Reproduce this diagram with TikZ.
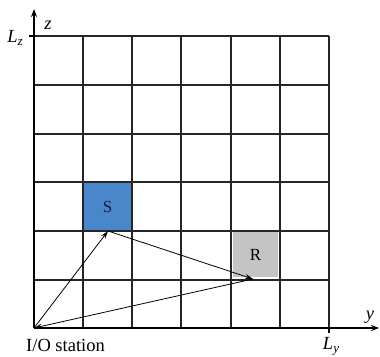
\documentclass[tikz,border=0pt]{standalone}
\usepackage{fontspec}
\setmainfont{Liberation Serif}
\usetikzlibrary{arrows.meta}
\begin{document}
\begin{tikzpicture}[x=1pt,y=1pt,
  gridline/.style={line width=1.4pt,black!85},
  cell/.style={inner sep=0pt,font=\fontsize{17}{17}\selectfont},
  route/.style={line width=0.8pt,-{Stealth[length=8pt,width=5pt]}},
  lab/.style={inner sep=0pt,font=\fontsize{18.5}{18.5}\selectfont}]
\useasboundingbox (0,0) rectangle (380,356);
% cells
\node[cell,minimum width=49pt,minimum height=49pt,fill={rgb,255:red,74;green,134;blue,202},text={rgb,255:red,20;green,30;blue,70}] (S) at (107.5,149.5) {S};
\node[cell,minimum width=45pt,minimum height=45pt,fill={rgb,255:red,196;green,196;blue,196}] (R) at (255.5,101) {R};
% grid
\foreach \x in {83,132,181,231,280,329} {
  \draw[gridline] (\x,28) -- (\x,320);
}
\foreach \y in {76,125,174,222,271,320} {
  \draw[gridline] (34,\y) -- (329,\y);
}
% axes
\coordinate (O) at (34,28);
\coordinate (ztip) at (34,347);
\coordinate (ytip) at (379,28);
\draw[line width=1.4pt,-{Stealth[length=8pt,width=6pt]}] (O) -- (ztip);
\draw[line width=1.4pt,-{Stealth[length=8pt,width=6pt]}] (O) -- (ytip);
\draw[line width=1.4pt] (29,320) -- (34,320);
\draw[line width=1.4pt] (329,28) -- (329,23);
% labels
\node[lab] (zl) at (48,331) {\textit{z}};
\node[lab] (yl) at (370,39) {\textit{y}};
\node[lab] (Lz) at (15,318) {\textit{L}\raisebox{-0.35ex}{\fontsize{13}{13}\selectfont\textit{z}}};
\node[lab,anchor=base] (Ly) at (331,6) {\textit{L}\raisebox{-0.35ex}{\fontsize{13}{13}\selectfont\textit{y}}};
\node[lab,anchor=base west] (io) at (26,5) {I/O station};
% route
\coordinate (Sb) at (108,125);
\coordinate (Rb) at (253,77);
\draw[route] (O) -- (Sb);
\draw[route] (Sb) -- (Rb);
\draw[route] (Rb) -- (O);
\end{tikzpicture}
\end{document}
